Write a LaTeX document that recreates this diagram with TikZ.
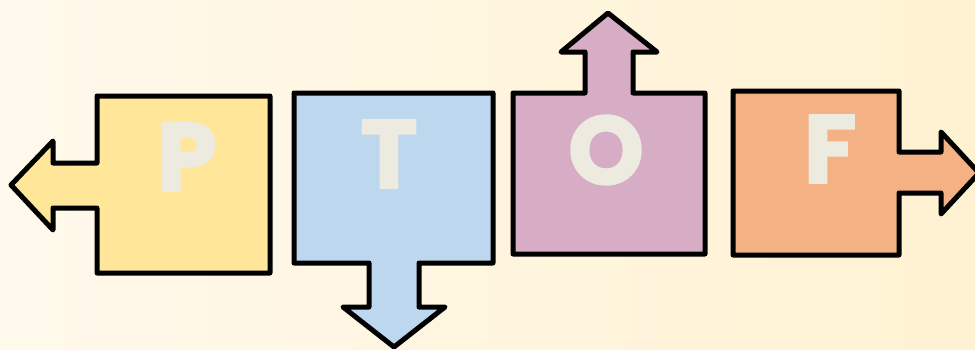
\documentclass[tikz,border=0pt]{standalone}
\usepackage{fontspec}
\newfontfamily\letterfont[BoldFeatures={FakeBold=2.5}]{Poppins}
\definecolor{bgA}{HTML}{FFF9EC}
\definecolor{bgB}{HTML}{FFF2D2}
\definecolor{pfill}{HTML}{FFE699}
\definecolor{tfill}{HTML}{BDD7EE}
\definecolor{ofill}{HTML}{D6ADC5}
\definecolor{ffill}{HTML}{F4B183}
\definecolor{lettercol}{HTML}{EDEBE0}
\begin{document}
\begin{tikzpicture}[x=0.75pt,y=-0.75pt,
  shapebox/.style={draw=black,line width=3.75pt,line join=round},
  letter/.style={text=lettercol,font=\letterfont\bfseries\fontsize{72}{72}\selectfont,inner sep=0pt,anchor=center}]
\useasboundingbox (0,0) rectangle (975,350);
\shade[left color=bgA,right color=bgB] (0,0) rectangle (975,350);
\begin{scope}
\clip (0,0) rectangle (975,350);
% P
\draw[shapebox,fill=pfill] (97,96) -- (270,96) -- (270,273) -- (97,273) -- (97,208) -- (53,208) -- (53,230) -- (11,185) -- (53,141) -- (53,163) -- (97,163) -- cycle;
% T
\draw[shapebox,fill=tfill] (294,93) -- (493,93) -- (493,263) -- (419,263) -- (419,307) -- (445,307) -- (394,347) -- (343,307) -- (369,307) -- (369,263) -- (294,263) -- cycle;
% O
\draw[shapebox,fill=ofill] (513,93) -- (585,93) -- (585,52) -- (561,52) -- (608,13) -- (657,52) -- (633,52) -- (633,93) -- (705,93) -- (705,254) -- (513,254) -- cycle;
% F
\draw[shapebox,fill=ffill] (733,91) -- (899,91) -- (899,152) -- (941,152) -- (941,132) -- (979,173) -- (941,214) -- (941,193) -- (899,193) -- (899,255) -- (733,255) -- cycle;
\end{scope}
\node[letter] (P) at (187,157) {P};
\node[letter] (T) at (389,154) {T};
\node[letter] (O) at (606,150) {O};
\node[letter] (F) at (830,149) {F};
\end{tikzpicture}
\end{document}
